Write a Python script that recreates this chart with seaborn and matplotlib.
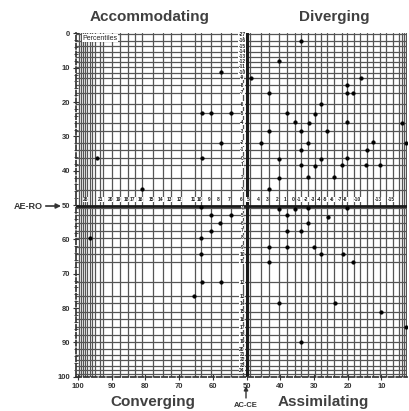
import matplotlib
matplotlib.use("Agg")
import matplotlib.pyplot as plt
import seaborn as sns
import pandas as pd

sns.set_theme(style="white")
plt.rcParams['font.family'] = ['Liberation Sans', 'DejaVu Sans']

# ---- data: individual learners (AE-RO percentile on x, AC-CE percentile on y)
aero_pct = [33.7, 40.3, 57.7, 48.7, 16.1, 20.1, 43.4, 20.1, 18.5, 28.0,
            63.2, 60.4, 54.6, 38.0, 29.7, 35.7, 31.5, 20.3, 3.9, 43.4,
            33.7, 26.0, 57.7, 45.8, 31.7, 12.5, 2.7, 33.7, 14.4, 63.2,
            40.3, 28.0, 20.3, 33.7, 29.8, 21.7, 14.5, 10.4, 31.7, 40.3,
            24.0, 43.4, 94.5, 81.0, 40.4, 38.1, 35.6, 31.9, 20.3, 60.6,
            54.5, 57.9, 31.9, 25.9, 60.6, 38.1, 33.7, 63.6, 43.4, 38.1,
            29.9, 63.6, 28.0, 21.5, 43.4, 18.5, 63.2, 57.7, 40.3, 23.9,
            10.1, 2.7, 33.7, 63.4, 96.3, 65.5]
acce_pct = [2.2, 8.0, 11.3, 12.9, 13.0, 15.1, 17.3, 17.3, 17.3, 20.7,
            23.3, 23.3, 23.3, 23.3, 23.6, 25.9, 26.1, 25.9, 26.0, 28.4,
            28.4, 28.4, 31.8, 31.8, 31.8, 31.7, 31.8, 33.9, 33.9, 36.4,
            36.5, 36.5, 36.3, 38.3, 38.5, 38.3, 38.4, 38.3, 41.7, 42.0,
            41.7, 45.4, 36.4, 45.4, 51.1, 53.0, 51.1, 50.9, 50.8, 53.0,
            53.0, 55.3, 55.3, 53.5, 57.5, 57.6, 57.5, 59.5, 62.3, 62.3,
            62.3, 64.3, 64.3, 64.3, 66.5, 66.5, 72.5, 72.5, 78.6, 78.6,
            81.1, 85.6, 89.8, 50.7, 59.7, 76.5]

# raw AE-RO scores (vertical grid lines) and their percentile positions
aero_raw = ["", "", "", "", "26", "", "", "", "", "21", "20", "19", "18", "17",
            "16", "15", "14", "13", "12", "11", "10", "9", "8", "7", "6", "5",
            "4", "3", "2", "1", "0", "-1", "-2", "-3", "-4", "-5", "-6", "-7",
            "-8", "", "-10", "", "", "-13", "", "-15", "", "", "", ""]
aero_pos = [99.7, 99.2, 98.5, 97.8, 97.2, 96.5, 95.8, 95.0, 93.5, 92.6, 89.8,
            87.4, 85.1, 83.1, 80.9, 77.7, 74.9, 72.3, 69.3, 65.3, 63.4, 60.4,
            57.7, 54.7, 51.0, 49.0, 45.8, 43.4, 40.3, 38.0, 35.7, 33.7, 31.7,
            29.7, 28.0, 26.0, 24.0, 21.8, 20.1, 18.2, 16.4, 14.4, 12.4, 10.4,
            8.5, 6.5, 4.8, 3.9, 3.2, 2.6]

# raw AC-CE scores (horizontal grid lines) and their percentile positions
acce_raw = ["-27", "-16", "-15", "-14", "-13", "-12", "-11", "-10", "-9", "-8",
            "-7", "-6", "-5", "-4", "-3", "-2", "-1", "0", "1", "2", "3", "4",
            "5", "6", "7", "8", "9", "10", "11", "12", "13", "14", "15", "16",
            "17", "18", "19", "20", "21", "22", "23", "24", ""]
acce_pos = [0.3, 2.2, 3.7, 5.4, 6.8, 8.3, 9.7, 11.5, 12.9, 15.1, 17.3, 20.6,
            23.3, 26.0, 28.5, 31.9, 33.9, 36.4, 38.3, 42.0, 45.5, 51.0, 53.0,
            55.3, 57.5, 59.6, 62.3, 64.3, 66.5, 72.5, 76.6, 78.6, 81.1, 83.3,
            85.6, 87.8, 89.8, 92.0, 93.6, 95.1, 96.8, 98.2, 99.2]

quadrants = ["Accommodating", "Diverging", "Converging", "Assimilating"]

df = pd.DataFrame({"AE-RO": aero_pct, "AC-CE": acce_pct})

fig = plt.figure(figsize=(4.09, 4.11), dpi=100)
ax = fig.add_axes([0.1858, 0.0827, 0.8093, 0.836])

line_col = "#555555"
for p in aero_pos:
    ax.axvline(p, color=line_col, lw=0.9, zorder=1)
for p in acce_pos:
    ax.axhline(p, color=line_col, lw=0.9, zorder=1)
ax.axvline(50, color="#1a1a1a", lw=2.2, zorder=2)
ax.axhline(50.2, color="#1a1a1a", lw=2.0, zorder=2)

sns.scatterplot(data=df, x="AE-RO", y="AC-CE", color="black", s=7,
                edgecolor="black", linewidth=0.3, ax=ax, zorder=5, legend=False)

ax.set_xlim(100.6, 2.4)
ax.set_ylim(100.1, 0)

for lab, p in zip(aero_raw, aero_pos):
    if lab:
        ax.text(p + 0.6, 48.3, lab, fontsize=3.6, fontweight="bold",
                ha="center", va="center", color="#222", zorder=4,
                bbox=dict(facecolor="white", edgecolor="none", pad=0.1))
for lab, p in zip(acce_raw, acce_pos):
    if lab:
        ax.text(51.3, p, lab, fontsize=3.6, fontweight="bold", ha="center",
                va="center", color="#222", zorder=4,
                bbox=dict(facecolor="white", edgecolor="none", pad=0.1))

ax.text(98.8, 0.4, "Percentiles", fontsize=5, ha="left", va="top", color="#222",
        zorder=6, bbox=dict(facecolor="white", edgecolor="none", pad=0.3))

ax.set_xticks(list(range(100, 0, -10)))
ax.set_yticks(list(range(0, 101, 10)))
ax.set_yticks(list(range(0, 101, 2)), minor=True)
ax.tick_params(axis="both", which="major", labelsize=5.5, length=5, width=0.8,
               direction="inout", colors="#333", pad=1.5)
ax.tick_params(axis="y", which="minor", length=2.5, width=0.6, direction="inout",
               colors="#333", left=True)
ax.tick_params(axis="x", which="major", bottom=True)
ax.tick_params(axis="y", which="major", left=True)
for lbl in ax.get_xticklabels() + ax.get_yticklabels():
    lbl.set_fontweight("bold")
ax.set_xlabel("")
ax.set_ylabel("")

for s in ["top", "right"]:
    ax.spines[s].set_visible(False)
ax.spines["left"].set_linestyle((0, (3, 1.5)))
ax.spines["left"].set_color("#333")
ax.spines["bottom"].set_linestyle((0, (3, 1.5)))
ax.spines["bottom"].set_color("#333")

title_kw = dict(fontsize=11, fontweight="bold", color="#404040",
                ha="center", va="center")
fig.text(150 / 409, 1 - 17 / 411, quadrants[0], **title_kw)
fig.text(334 / 409, 1 - 17 / 411, quadrants[1], **title_kw)
fig.text(153 / 409, 1 - 402 / 411, quadrants[2], **title_kw)
fig.text(323 / 409, 1 - 402 / 411, quadrants[3], **title_kw)

ax.annotate("AE-RO", xy=(61 / 409, 1 - 206 / 411), xycoords="figure fraction",
            xytext=(28 / 409, 1 - 206 / 411), textcoords="figure fraction",
            fontsize=6.5, fontweight="bold", color="#333", ha="center", va="center",
            arrowprops=dict(arrowstyle="-|>", color="#333", lw=1.2,
                            mutation_scale=7, shrinkA=0, shrinkB=0),
            annotation_clip=False)
ax.annotate("", xy=(246 / 409, 1 - 386 / 411), xycoords="figure fraction",
            xytext=(246 / 409, 1 - 398 / 411), textcoords="figure fraction",
            arrowprops=dict(arrowstyle="-|>", color="#333", lw=1.0,
                            mutation_scale=6, shrinkA=0, shrinkB=0),
            annotation_clip=False)
fig.text(246 / 409, 1 - 405 / 411, "AC-CE", fontsize=5.5, fontweight="bold",
         color="#333", ha="center", va="center")

fig.savefig("out.png", dpi=100)
